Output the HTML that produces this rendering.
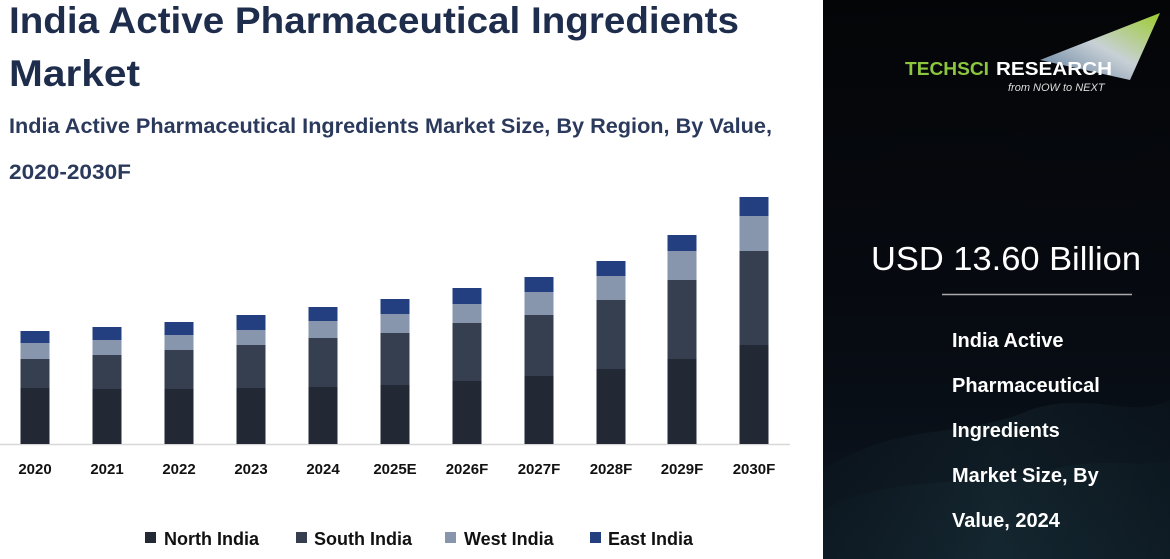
<!DOCTYPE html>
<html><head><meta charset="utf-8"><style>
html,body{margin:0;padding:0;background:#fff}
svg{display:block}
text{font-family:"Liberation Sans",sans-serif}
</style></head><body>
<svg width="1170" height="559" viewBox="0 0 1170 559" xmlns="http://www.w3.org/2000/svg">
<defs>
<linearGradient id="bg" x1="0" y1="0" x2="0" y2="1">
<stop offset="0" stop-color="#040507"/><stop offset="0.6" stop-color="#070b12"/><stop offset="1" stop-color="#0c1620"/>
</linearGradient>
<linearGradient id="wave" x1="0" y1="0" x2="1" y2="0">
<stop offset="0" stop-color="#1b3a40" stop-opacity="0.15"/><stop offset="0.5" stop-color="#2a5058" stop-opacity="0.35"/><stop offset="1" stop-color="#1b3a40" stop-opacity="0.2"/>
</linearGradient>
<linearGradient id="tri" x1="0" y1="1" x2="1" y2="0">
<stop offset="0" stop-color="#5a7a9a"/><stop offset="0.5" stop-color="#c8d0d6"/><stop offset="1" stop-color="#9ccc2e"/>
</linearGradient>
</defs>
<rect x="0" y="0" width="1170" height="559" fill="#fff"/>
<text x="9" y="33" font-size="37" font-weight="bold" fill="#1f2d4d" textLength="730" lengthAdjust="spacingAndGlyphs">India Active Pharmaceutical Ingredients</text>
<text x="9" y="86" font-size="37" font-weight="bold" fill="#1f2d4d" textLength="131" lengthAdjust="spacingAndGlyphs">Market</text>
<text x="9" y="133" font-size="21" font-weight="bold" fill="#2b3a5c" textLength="763" lengthAdjust="spacingAndGlyphs">India Active Pharmaceutical Ingredients Market Size, By Region, By Value,</text>
<text x="9" y="179" font-size="21" font-weight="bold" fill="#2b3a5c" textLength="122" lengthAdjust="spacingAndGlyphs">2020-2030F</text>
<line x1="0" y1="444.5" x2="790" y2="444.5" stroke="#d8d8d8" stroke-width="1.5"/>
<g>
<rect x="20.5" y="388" width="29" height="56" fill="#222834"/><rect x="20.5" y="359" width="29" height="29" fill="#353f50"/><rect x="20.5" y="343" width="29" height="16" fill="#8795ad"/><rect x="20.5" y="331" width="29" height="12" fill="#233f80"/>
<rect x="92.5" y="389" width="29" height="55" fill="#222834"/><rect x="92.5" y="355" width="29" height="34" fill="#353f50"/><rect x="92.5" y="340" width="29" height="15" fill="#8795ad"/><rect x="92.5" y="327" width="29" height="13" fill="#233f80"/>
<rect x="164.5" y="389" width="29" height="55" fill="#222834"/><rect x="164.5" y="350" width="29" height="39" fill="#353f50"/><rect x="164.5" y="335" width="29" height="15" fill="#8795ad"/><rect x="164.5" y="322" width="29" height="13" fill="#233f80"/>
<rect x="236.5" y="388" width="29" height="56" fill="#222834"/><rect x="236.5" y="345" width="29" height="43" fill="#353f50"/><rect x="236.5" y="330" width="29" height="15" fill="#8795ad"/><rect x="236.5" y="315" width="29" height="15" fill="#233f80"/>
<rect x="308.5" y="387" width="29" height="57" fill="#222834"/><rect x="308.5" y="338" width="29" height="49" fill="#353f50"/><rect x="308.5" y="321" width="29" height="17" fill="#8795ad"/><rect x="308.5" y="307" width="29" height="14" fill="#233f80"/>
<rect x="380.5" y="385" width="29" height="59" fill="#222834"/><rect x="380.5" y="333" width="29" height="52" fill="#353f50"/><rect x="380.5" y="314" width="29" height="19" fill="#8795ad"/><rect x="380.5" y="299" width="29" height="15" fill="#233f80"/>
<rect x="452.5" y="381" width="29" height="63" fill="#222834"/><rect x="452.5" y="323" width="29" height="58" fill="#353f50"/><rect x="452.5" y="304" width="29" height="19" fill="#8795ad"/><rect x="452.5" y="288" width="29" height="16" fill="#233f80"/>
<rect x="524.5" y="376" width="29" height="68" fill="#222834"/><rect x="524.5" y="315" width="29" height="61" fill="#353f50"/><rect x="524.5" y="292" width="29" height="23" fill="#8795ad"/><rect x="524.5" y="277" width="29" height="15" fill="#233f80"/>
<rect x="596.5" y="369" width="29" height="75" fill="#222834"/><rect x="596.5" y="300" width="29" height="69" fill="#353f50"/><rect x="596.5" y="276" width="29" height="24" fill="#8795ad"/><rect x="596.5" y="261" width="29" height="15" fill="#233f80"/>
<rect x="667.5" y="359" width="29" height="85" fill="#222834"/><rect x="667.5" y="280" width="29" height="79" fill="#353f50"/><rect x="667.5" y="251" width="29" height="29" fill="#8795ad"/><rect x="667.5" y="235" width="29" height="16" fill="#233f80"/>
<rect x="739.5" y="345" width="29" height="99" fill="#222834"/><rect x="739.5" y="251" width="29" height="94" fill="#353f50"/><rect x="739.5" y="216" width="29" height="35" fill="#8795ad"/><rect x="739.5" y="197" width="29" height="19" fill="#233f80"/>
</g>
<g font-size="15" font-weight="bold" fill="#111" text-anchor="middle">
<text x="35" y="474">2020</text><text x="107" y="474">2021</text><text x="179" y="474">2022</text><text x="251" y="474">2023</text><text x="323" y="474">2024</text><text x="395" y="474">2025E</text><text x="467" y="474">2026F</text><text x="539" y="474">2027F</text><text x="611" y="474">2028F</text><text x="682" y="474">2029F</text><text x="754" y="474">2030F</text>
</g>
<g font-size="18" font-weight="bold" fill="#111">
<rect x="145" y="532" width="11" height="11" fill="#222834"/><text x="164" y="545">North India</text>
<rect x="296" y="532" width="11" height="11" fill="#353f50"/><text x="314" y="545">South India</text>
<rect x="445" y="532" width="11" height="11" fill="#8795ad"/><text x="464" y="545">West India</text>
<rect x="590" y="532" width="11" height="11" fill="#233f80"/><text x="608" y="545">East India</text>
</g>
<rect x="823" y="0" width="347" height="559" fill="url(#bg)"/>
<path d="M823 470 C900 420 960 440 1030 410 C1090 390 1130 420 1170 400 L1170 559 L823 559 Z" fill="url(#wave)" opacity="0.5"/>
<path d="M823 510 C900 470 980 490 1050 470 C1110 455 1140 470 1170 460 L1170 559 L823 559 Z" fill="url(#wave)" opacity="0.4"/>
<polygon points="1040,60 1160,13 1130,80" fill="url(#tri)"/>
<text x="905" y="75" font-size="18" font-weight="bold" fill="#8cc63f" textLength="84" lengthAdjust="spacingAndGlyphs">TECHSCI</text>
<text x="996" y="75" font-size="18" font-weight="bold" fill="#fff" textLength="116" lengthAdjust="spacingAndGlyphs">RESEARCH</text>
<text x="1008" y="91" font-size="11" font-style="italic" fill="#ddd">from NOW to NEXT</text>
<text x="871" y="270" font-size="33" fill="#fff" textLength="270" lengthAdjust="spacingAndGlyphs">USD 13.60 Billion</text>
<line x1="942" y1="294.5" x2="1132" y2="294.5" stroke="#aaa" stroke-width="1.5"/>
<g font-size="20" font-weight="bold" fill="#fff">
<text x="952" y="347">India Active</text>
<text x="952" y="392">Pharmaceutical</text>
<text x="952" y="437">Ingredients</text>
<text x="952" y="482">Market Size, By</text>
<text x="952" y="527">Value, 2024</text>
</g>
</svg>
</body></html>
